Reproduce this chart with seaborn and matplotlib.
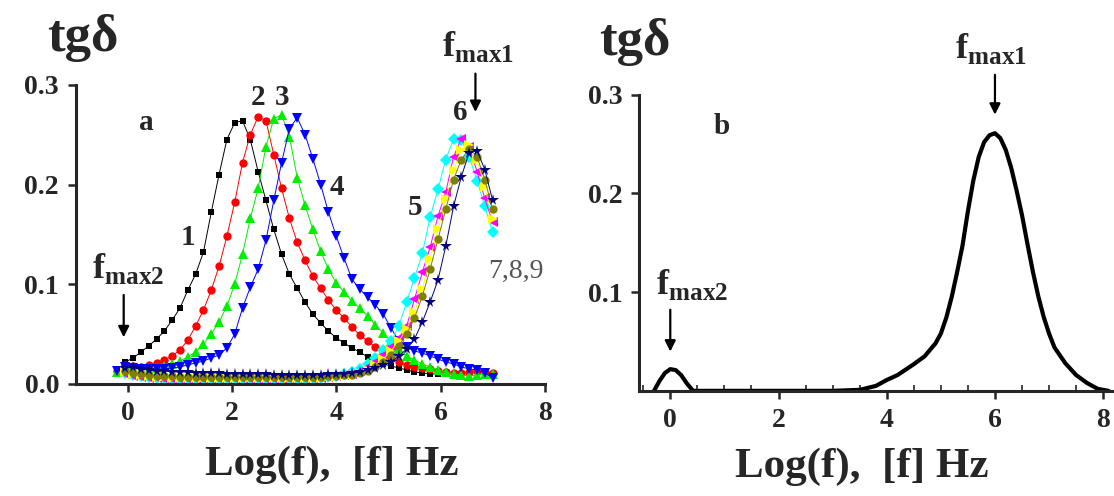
import numpy as np
import pandas as pd
import seaborn as sns
import matplotlib.pyplot as plt
from matplotlib.ticker import MultipleLocator

# ---- data ----
LOGF = [-0.2, -0.05, 0.1, 0.25, 0.4, 0.55, 0.7, 0.85, 1.0, 1.15, 1.3, 1.45, 1.6,
        1.75, 1.9, 2.05, 2.2, 2.35, 2.5, 2.65, 2.8, 2.95, 3.1, 3.25, 3.4, 3.55,
        3.7, 3.85, 4.0, 4.15, 4.3, 4.45, 4.6, 4.75, 4.9, 5.05, 5.2, 5.35, 5.5,
        5.65, 5.8, 5.95, 6.1, 6.25, 6.4, 6.55, 6.7, 6.85, 7.0]

na = None
tgd_1 = [0.012, 0.022, 0.026, 0.032, 0.038, 0.045, 0.053, 0.064, 0.076, 0.094, 0.110, 0.132, 0.172,
         0.210, 0.245, 0.262, 0.264, 0.245, 0.213, 0.184, 0.155, 0.130, 0.110, 0.096, 0.082, 0.070,
         0.061, 0.053, 0.046, 0.041, 0.036, 0.032, 0.027, 0.023, 0.020, 0.018, 0.016, 0.014, 0.012,
         0.011, 0.010, 0.010, na, na, na, na, na, na, na]
tgd_2 = [0.013, 0.019, 0.018, 0.017, 0.019, 0.021, 0.024, 0.028, 0.034, 0.044, 0.058, 0.074, 0.094,
         0.118, 0.148, 0.182, 0.222, 0.250, 0.268, 0.264, 0.230, 0.196, 0.166, 0.142, 0.124, 0.108,
         0.096, 0.084, 0.074, 0.066, 0.057, 0.049, 0.043, 0.037, 0.031, 0.026, 0.022, 0.019, 0.017,
         0.016, 0.015, 0.013, 0.012, 0.011, 0.011, 0.012, 0.013, 0.012, 0.011]
tgd_3 = [0.012, 0.016, 0.015, 0.015, 0.015, 0.016, 0.018, 0.020, 0.023, 0.027, 0.032, 0.040, 0.050,
         0.062, 0.078, 0.100, 0.130, 0.166, 0.196, 0.238, 0.266, 0.270, 0.248, 0.207, 0.179, 0.155,
         0.133, 0.115, 0.101, 0.092, 0.083, 0.076, 0.068, 0.059, 0.051, 0.043, 0.035, 0.028, 0.024,
         0.020, 0.017, 0.014, 0.012, 0.010, 0.009, 0.008, 0.009, 0.010, 0.010]
tgd_4 = [0.013, 0.017, 0.016, 0.015, 0.015, 0.015, 0.015, 0.016, 0.017, 0.019, 0.021, 0.023, 0.026,
         0.029, 0.036, 0.050, 0.076, 0.097, 0.115, 0.144, 0.184, 0.222, 0.256, 0.267, 0.250, 0.226,
         0.200, 0.172, 0.148, 0.126, 0.105, 0.095, 0.087, 0.079, 0.070, 0.056, 0.043, 0.037, 0.033,
         0.031, 0.028, 0.025, 0.022, 0.020, 0.017, 0.015, 0.014, 0.011, 0.006]
tgd_5 = [na, 0.011, 0.009, 0.008, 0.007, 0.006, 0.006, 0.005, 0.005, 0.005, 0.005, 0.005, 0.005,
         0.005, 0.005, 0.005, 0.005, 0.005, 0.005, 0.005, 0.005, 0.005, 0.005, 0.005, 0.005, 0.006,
         0.006, 0.007, 0.008, 0.010, 0.012, 0.015, 0.020, 0.026, 0.034, 0.043, 0.058, 0.082, 0.106,
         0.131, 0.167, 0.195, 0.225, 0.246, 0.245, 0.228, 0.204, 0.178, 0.152]
tgd_6 = [na, 0.010, 0.008, 0.007, 0.006, 0.006, 0.005, 0.005, 0.005, 0.005, 0.005, 0.005, 0.005,
         0.005, 0.005, 0.005, 0.005, 0.005, 0.005, 0.005, 0.005, 0.005, 0.005, 0.005, 0.005, 0.005,
         0.006, 0.007, 0.008, 0.009, 0.010, 0.013, 0.017, 0.022, 0.029, 0.037, 0.046, 0.058, 0.085,
         0.112, 0.137, 0.168, 0.192, 0.228, 0.246, 0.238, 0.213, 0.186, 0.162]
tgd_7 = [na, 0.012, 0.010, 0.009, 0.008, 0.007, 0.007, 0.006, 0.006, 0.006, 0.006, 0.006, 0.006,
         0.006, 0.006, 0.006, 0.006, 0.006, 0.006, 0.006, 0.006, 0.006, 0.006, 0.006, 0.006, 0.006,
         0.006, 0.007, 0.007, 0.008, 0.009, 0.011, 0.014, 0.019, 0.025, 0.033, 0.043, 0.055, 0.072,
         0.095, 0.125, 0.155, 0.185, 0.215, 0.235, 0.240, 0.225, 0.198, 0.165]
tgd_8 = [na, 0.013, 0.011, 0.010, 0.009, 0.008, 0.008, 0.008, 0.007, 0.007, 0.007, 0.007, 0.007,
         0.007, 0.007, 0.007, 0.007, 0.007, 0.007, 0.007, 0.007, 0.007, 0.007, 0.007, 0.007, 0.007,
         0.007, 0.008, 0.008, 0.009, 0.009, 0.011, 0.013, 0.017, 0.022, 0.029, 0.038, 0.050, 0.066,
         0.088, 0.115, 0.145, 0.175, 0.205, 0.225, 0.236, 0.228, 0.205, 0.175]
tgd_9 = [na, 0.016, 0.017, 0.015, 0.014, 0.013, 0.013, 0.012, 0.012, 0.012, 0.011, 0.011, 0.011,
         0.011, 0.010, 0.010, 0.010, 0.010, 0.010, 0.010, 0.009, 0.009, 0.009, 0.009, 0.009, 0.009,
         0.009, 0.010, 0.010, 0.010, 0.011, 0.012, 0.014, 0.016, 0.019, 0.022, 0.028, 0.035, 0.045,
         0.062, 0.082, 0.104, 0.138, 0.178, 0.208, 0.232, 0.234, 0.215, 0.184]

curves = ["1", "2", "3", "4", "5", "6", "7", "8", "9"]
series = [tgd_1, tgd_2, tgd_3, tgd_4, tgd_5, tgd_6, tgd_7, tgd_8, tgd_9]
colors = ["#000000", "#ff0000", "#00ee00", "#0000ff", "#00ffff", "#ff00ff", "#ffff00", "#808000", "#000080"]
markers = ["s", "o", "^", "v", "D", "<", ">", "o", "*"]
msizes = [5, 6, 7.5, 7.5, 6, 7, 7, 6, 8.5]

# panel b: single smooth curve
B_LOGF = [-0.3, -0.2, -0.1, 0.0, 0.1, 0.2, 0.3, 0.42, 1.0, 2.0, 3.0, 3.5, 3.8, 4.0, 4.2, 4.5,
          4.7, 4.9, 5.0, 5.1, 5.2, 5.3, 5.4, 5.5, 5.6, 5.7, 5.8, 5.9, 6.0, 6.1, 6.2, 6.3, 6.4,
          6.5, 6.6, 6.7, 6.8, 6.9, 7.0, 7.1, 7.3, 7.5, 7.7, 7.9, 8.1]
B_TGD = [0.0, 0.010, 0.018, 0.022, 0.021, 0.016, 0.008, 0.0, 0.0, 0.0, 0.0, 0.001, 0.005, 0.011,
         0.016, 0.027, 0.035, 0.048, 0.058, 0.074, 0.095, 0.120, 0.147, 0.182, 0.213, 0.237, 0.252,
         0.259, 0.261, 0.256, 0.244, 0.226, 0.203, 0.178, 0.149, 0.121, 0.096, 0.075, 0.058, 0.044,
         0.028, 0.016, 0.008, 0.002, 0.0]

# ---- build frame ----
frames = []
for name, vals in zip(curves, series):
    frames.append(pd.DataFrame({"logf": LOGF, "tgd": vals, "curve": name}))
df = pd.concat(frames, ignore_index=True).dropna()
df_b = pd.DataFrame({"logf": B_LOGF, "tgd": B_TGD})

sns.set_theme(style="ticks")
plt.rcParams["font.family"] = ["Liberation Serif", "DejaVu Serif"]
plt.rcParams["font.weight"] = "bold"
plt.rcParams["mathtext.fontset"] = "custom"
plt.rcParams["mathtext.bf"] = "Liberation Serif:bold"
plt.rcParams["mathtext.rm"] = "Liberation Serif"

fig = plt.figure(figsize=(11.14, 4.96), dpi=100)
ax1 = fig.add_axes([0.068, 0.226, 0.421, 0.603])
ax2 = fig.add_axes([0.574, 0.212, 0.426, 0.597])

for name, col, mk, ms in zip(curves, colors, markers, msizes):
    sub = df[df["curve"] == name]
    sns.lineplot(data=sub, x="logf", y="tgd", ax=ax1, color=col, lw=0.7,
                 marker=mk, markersize=ms, markeredgewidth=0, sort=False)

sns.lineplot(data=df_b, x="logf", y="tgd", ax=ax2, color="black", lw=3.0, sort=False)

for ax in (ax1, ax2):
    sns.despine(ax=ax)
    ax.spines["left"].set_linewidth(2.2)
    ax.spines["bottom"].set_linewidth(2.2)
    ax.set_xlabel("")
    ax.set_ylabel("")
    ax.set_xticks([0, 2, 4, 6, 8])
    ax.tick_params(axis="both", which="major", direction="out", length=6, width=1.8,
                   labelsize=20, pad=6)

ax1.set_xlim(-1, 8)
ax1.set_ylim(0, 0.3)
ax1.set_yticks([0.0, 0.1, 0.2, 0.3])
ax1.set_yticklabels(["0.0", "0.1", "0.2", "0.3"], fontweight="bold")
ax1.set_xticklabels(["0", "2", "4", "6", "8"], fontweight="bold")

ax2.set_xlim(-0.57, 8.2)
ax2.set_ylim(0, 0.3)
ax2.set_yticks([0.1, 0.2, 0.3])
ax2.set_yticklabels(["0.1", "0.2", "0.3"], fontweight="bold")
ax2.set_xticklabels(["0", "2", "4", "6", "8"], fontweight="bold")
ax2.xaxis.set_minor_locator(MultipleLocator(0.5))
ax2.tick_params(axis="x", which="minor", direction="in", length=4, width=1.2)

# labels on panel a
lab = dict(fontsize=21, fontweight="bold", ha="center", va="center")
ax1.text(0.35, 0.262, "a", **lab)
ax1.text(1.15, 0.147, "1", **lab)
ax1.text(2.49, 0.287, "2", **lab)
ax1.text(2.95, 0.287, "3", **lab)
ax1.text(4.02, 0.197, "4", **lab)
ax1.text(5.52, 0.177, "5", **lab)
ax1.text(6.38, 0.272, "6", **lab)
ax1.text(7.45, 0.113, "7,8,9", fontsize=20, fontweight="normal", color="#555555",
         ha="center", va="center")

fmax1 = r"$\mathbf{f}_{\mathbf{max1}}$"
fmax2 = r"$\mathbf{f}_{\mathbf{max2}}$"
ax1.text(6.72, 0.338, fmax1, fontsize=26, ha="center", va="center", clip_on=False)
ax1.text(0.0, 0.116, fmax2, fontsize=26, ha="center", va="center")
arrow = dict(arrowstyle="-|>", color="black", lw=1.6, mutation_scale=16)
ax1.annotate("", xy=(6.67, 0.270), xytext=(6.67, 0.314), arrowprops=arrow, annotation_clip=False)
ax1.annotate("", xy=(-0.08, 0.044), xytext=(-0.08, 0.092), arrowprops=arrow)

# labels on panel b
ax2.text(0.95, 0.268, "b", **lab)
ax2.text(5.92, 0.347, fmax1, fontsize=26, ha="center", va="center", clip_on=False)
ax2.text(0.41, 0.108, fmax2, fontsize=26, ha="center", va="center")
ax2.annotate("", xy=(6.0, 0.277), xytext=(6.0, 0.323), arrowprops=arrow, annotation_clip=False)
ax2.annotate("", xy=(0.0, 0.037), xytext=(0.0, 0.085), arrowprops=arrow)

# titles / axis labels as figure text
fig.text(0.074, 0.923, "tgδ", fontsize=38, fontweight="bold", ha="center", va="center")
fig.text(0.570, 0.915, "tgδ", fontsize=38, fontweight="bold", ha="center", va="center")
fig.text(0.298, 0.0625, "Log(f),  [f] Hz", fontsize=31, fontweight="bold", ha="center", va="center")
fig.text(0.774, 0.0585, "Log(f),  [f] Hz", fontsize=31, fontweight="bold", ha="center", va="center")

fig.savefig("out.png", dpi=100, facecolor="white")
